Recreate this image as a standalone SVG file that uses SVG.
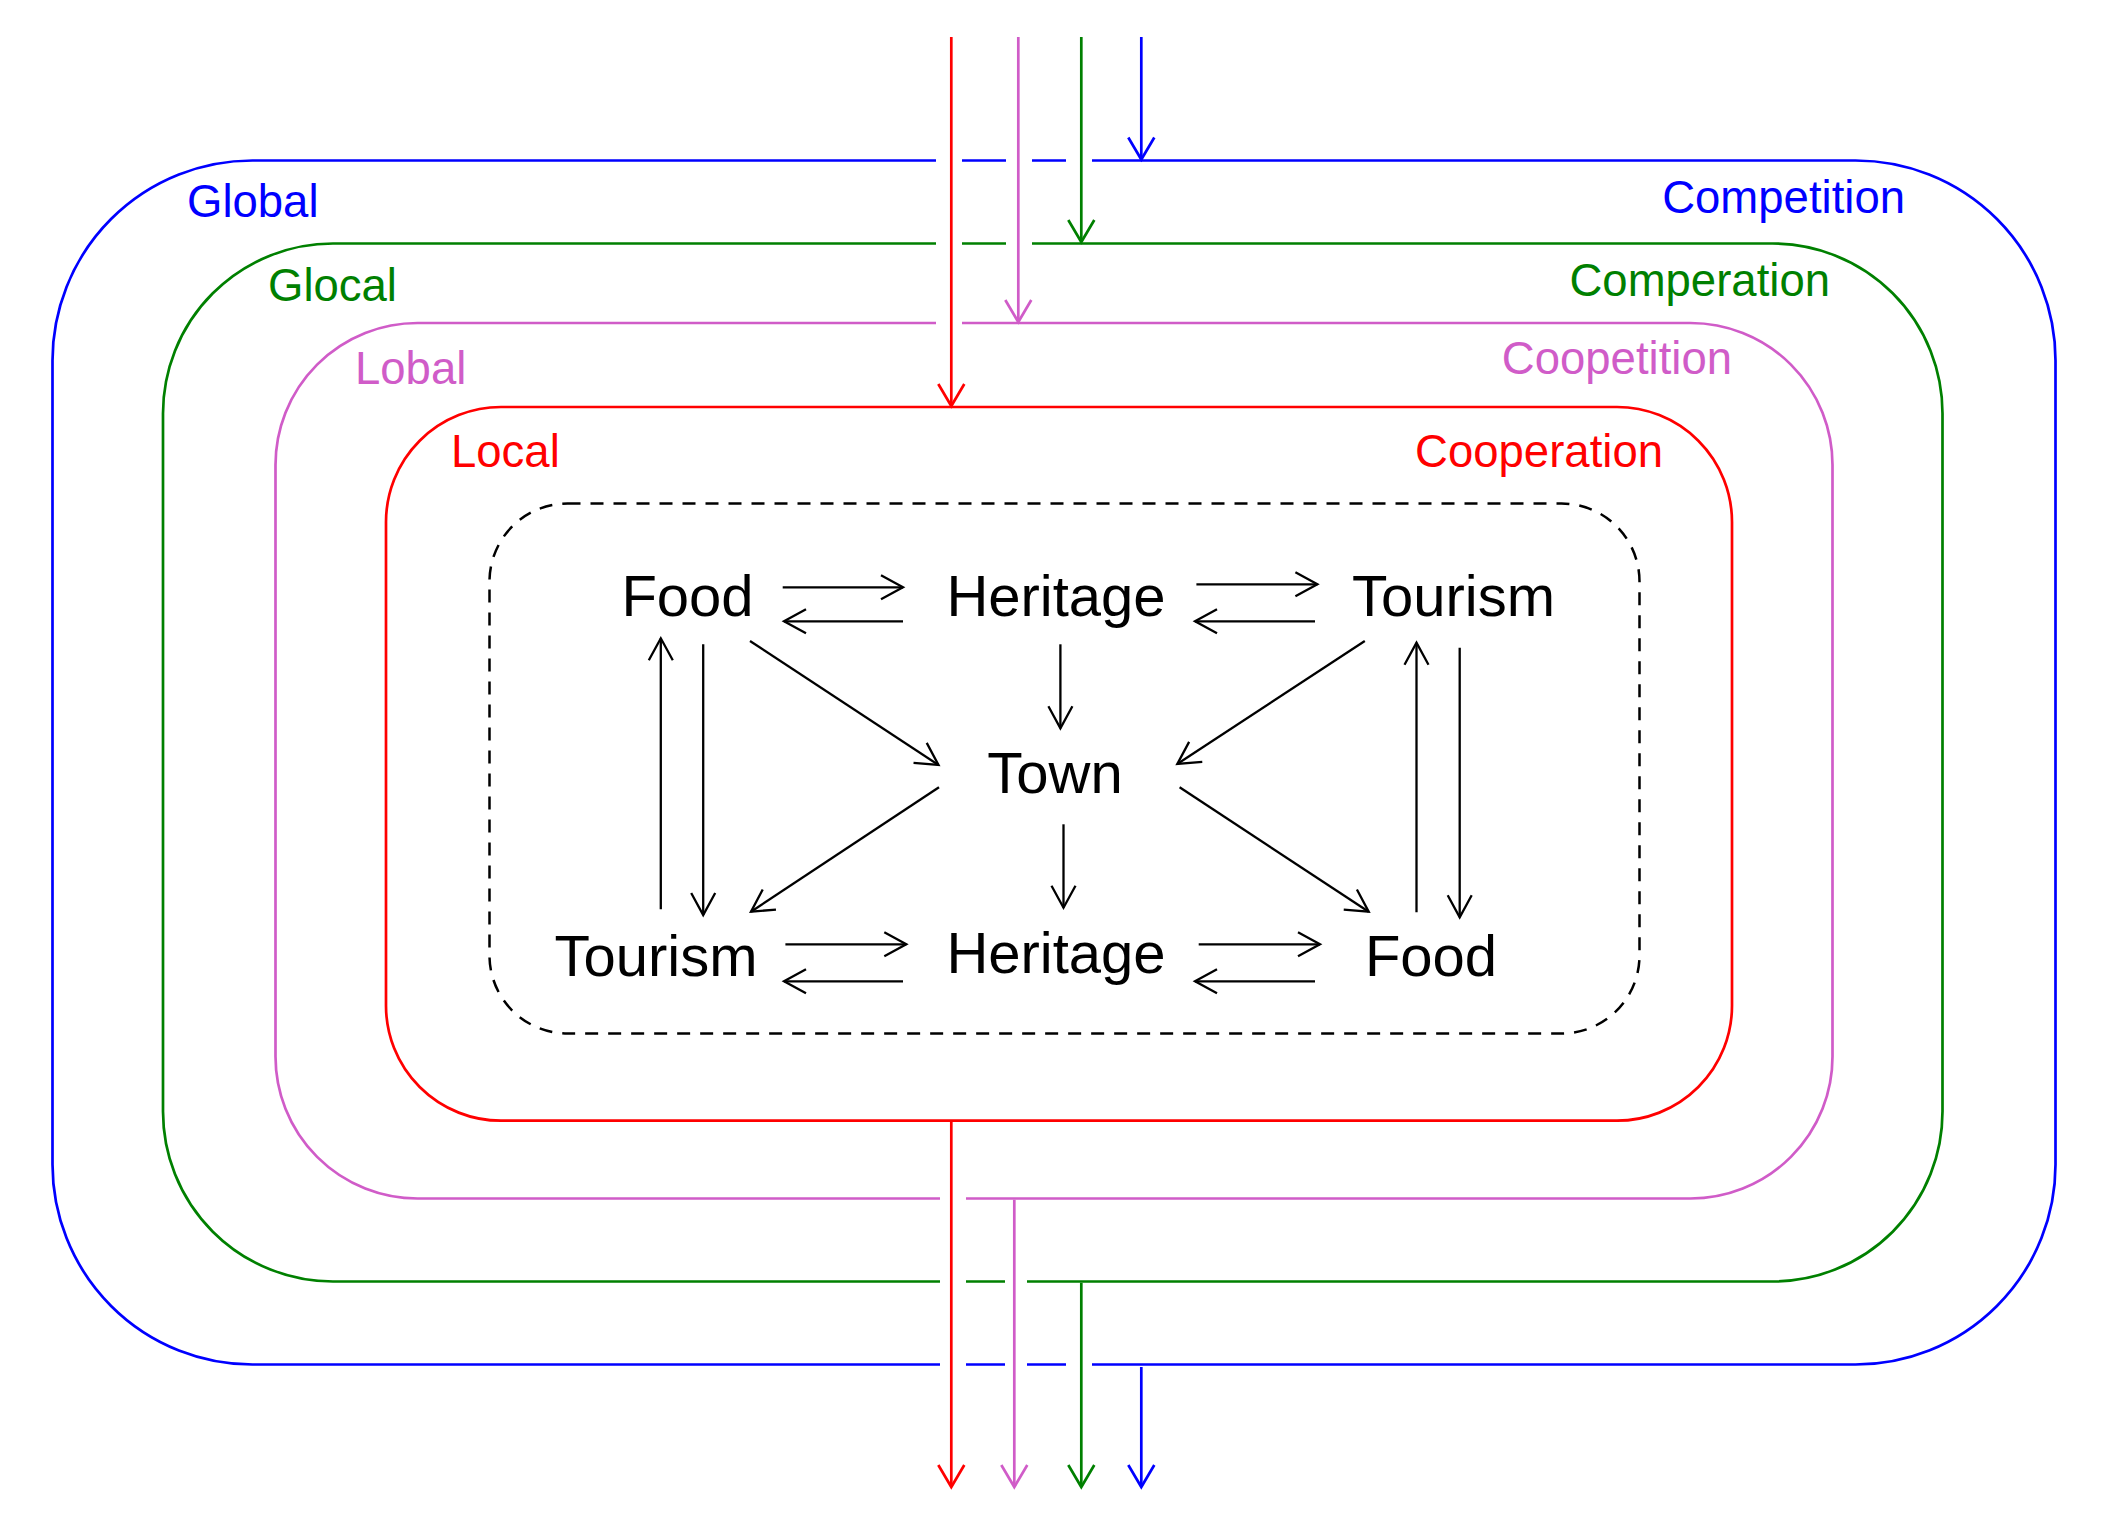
<svg xmlns="http://www.w3.org/2000/svg" width="2110" height="1520" viewBox="0 0 2110 1520">
<style>
  .ring { fill: none; stroke-width: 2.7; }
  .lbl { font-family: "Liberation Sans", Arial, Helvetica, sans-serif; font-size: 45.5px; }
  .node { font-family: "Liberation Sans", Arial, Helvetica, sans-serif; font-size: 58px; fill: #000; text-anchor: middle; }
  .blue { stroke: #0000FF; } .tblue { fill: #0000FF; }
  .green { stroke: #008000; } .tgreen { fill: #008000; }
  .pink { stroke: #D05CC8; } .tpink { fill: #D05CC8; }
  .red { stroke: #FF0000; } .tred { fill: #FF0000; }
  .blk { stroke: #000; stroke-width: 2.3; fill: none; marker-end: url(#ak); }
  .cv { fill: none; stroke-width: 2.7; }
</style>
<defs>
  <marker id="ak" markerUnits="userSpaceOnUse" markerWidth="40" markerHeight="40" viewBox="-30 -20 40 40" refX="0" refY="0" orient="auto" overflow="visible">
    <path d="M-22,-12 L0,0 L-22,12" fill="none" stroke="#000" stroke-width="2.3"/>
  </marker>
  <marker id="ab" markerUnits="userSpaceOnUse" markerWidth="40" markerHeight="40" viewBox="-30 -20 40 40" refX="0" refY="0" orient="auto" overflow="visible">
    <path d="M-22,-13 L0,0 L-22,13" fill="none" stroke="#0000FF" stroke-width="2.7"/>
  </marker>
  <marker id="ag" markerUnits="userSpaceOnUse" markerWidth="40" markerHeight="40" viewBox="-30 -20 40 40" refX="0" refY="0" orient="auto" overflow="visible">
    <path d="M-22,-13 L0,0 L-22,13" fill="none" stroke="#008000" stroke-width="2.7"/>
  </marker>
  <marker id="ap" markerUnits="userSpaceOnUse" markerWidth="40" markerHeight="40" viewBox="-30 -20 40 40" refX="0" refY="0" orient="auto" overflow="visible">
    <path d="M-22,-13 L0,0 L-22,13" fill="none" stroke="#D05CC8" stroke-width="2.7"/>
  </marker>
  <marker id="ar" markerUnits="userSpaceOnUse" markerWidth="40" markerHeight="40" viewBox="-30 -20 40 40" refX="0" refY="0" orient="auto" overflow="visible">
    <path d="M-22,-13 L0,0 L-22,13" fill="none" stroke="#FF0000" stroke-width="2.7"/>
  </marker>
</defs>
<rect width="2110" height="1520" fill="#fff"/>

<g id="ring-global">
  <path class="ring blue" d="M1092,160.5 H1855.5 A200,200 0 0 1 2055.5,360.5 V1164.5 A200,200 0 0 1 1855.5,1364.5 H1092 M1066,1364.5 H1027 M1005,1364.5 H966 M940,1364.5 H252.5 A200,200 0 0 1 52.5,1164.5 V360.5 A200,200 0 0 1 252.5,160.5 H936 M962,160.5 H1006 M1032,160.5 H1066"/>
  <text class="lbl tblue" x="187" y="217">Global</text>
  <text class="lbl tblue" x="1905" y="213" text-anchor="end">Competition</text>
</g>
<g id="ring-glocal">
  <path class="ring green" d="M1032,243.5 H1772.5 A170,170 0 0 1 1942.5,413.5 V1111.5 A170,170 0 0 1 1772.5,1281.5 H1027 M1005,1281.5 H966 M940,1281.5 H333 A170,170 0 0 1 163,1111.5 V413.5 A170,170 0 0 1 333,243.5 H936 M962,243.5 H1006"/>
  <text class="lbl tgreen" x="268" y="301">Glocal</text>
  <text class="lbl tgreen" x="1830" y="296" text-anchor="end">Comperation</text>
</g>
<g id="ring-lobal">
  <path class="ring pink" d="M962,323 H1690.5 A142,142 0 0 1 1832.5,465 V1056.5 A142,142 0 0 1 1690.5,1198.5 H966 M940,1198.5 H417.5 A142,142 0 0 1 275.5,1056.5 V465 A142,142 0 0 1 417.5,323 H936"/>
  <text class="lbl tpink" x="355" y="384">Lobal</text>
  <text class="lbl tpink" x="1732" y="374" text-anchor="end">Coopetition</text>
</g>
<g id="ring-local">
  <rect class="ring red" x="386" y="407" width="1346" height="713.7" rx="115" ry="115"/>
  <text class="lbl tred" x="451" y="467">Local</text>
  <text class="lbl tred" x="1663" y="467" text-anchor="end">Cooperation</text>
</g>
<g id="core">
  <rect x="489.5" y="503.5" width="1150" height="530" rx="78" ry="78" fill="none" stroke="#000" stroke-width="2.5" stroke-dasharray="13 10"/>
</g>

<g id="n-food-top"><text class="node" x="687.5" y="616">Food</text></g>
<g id="n-heritage-top"><text class="node" x="1056" y="616">Heritage</text></g>
<g id="n-tourism-top"><text class="node" x="1453.5" y="616">Tourism</text></g>
<g id="n-town"><text class="node" x="1055" y="793">Town</text></g>
<g id="n-tourism-bot"><text class="node" x="656" y="976">Tourism</text></g>
<g id="n-heritage-bot"><text class="node" x="1056" y="973">Heritage</text></g>
<g id="n-food-bot"><text class="node" x="1431" y="976">Food</text></g>

<g id="connectors">
  <!-- colored flows -->
  <line class="cv red" x1="951.3" y1="37" x2="951.3" y2="406" marker-end="url(#ar)"/>
  <line class="cv pink" x1="1018.3" y1="37" x2="1018.3" y2="322" marker-end="url(#ap)"/>
  <line class="cv green" x1="1081.3" y1="37" x2="1081.3" y2="242" marker-end="url(#ag)"/>
  <line class="cv blue" x1="1141.3" y1="37" x2="1141.3" y2="159.5" marker-end="url(#ab)"/>
  <line class="cv red" x1="951.3" y1="1120.7" x2="951.3" y2="1487" marker-end="url(#ar)"/>
  <line class="cv pink" x1="1014.3" y1="1199.8" x2="1014.3" y2="1487" marker-end="url(#ap)"/>
  <line class="cv green" x1="1081.3" y1="1282.8" x2="1081.3" y2="1487" marker-end="url(#ag)"/>
  <line class="cv blue" x1="1141.3" y1="1367" x2="1141.3" y2="1487" marker-end="url(#ab)"/>

  <!-- top row -->
  <line class="blk" x1="782.7" y1="587.3" x2="903" y2="587.3"/>
  <line class="blk" x1="903" y1="621.3" x2="784" y2="621.3"/>
  <line class="blk" x1="1196.4" y1="584.3" x2="1317.4" y2="584.3"/>
  <line class="blk" x1="1315" y1="621.3" x2="1195" y2="621.3"/>
  <!-- bottom row -->
  <line class="blk" x1="785.4" y1="944.3" x2="906.3" y2="944.3"/>
  <line class="blk" x1="903" y1="981.3" x2="784" y2="981.3"/>
  <line class="blk" x1="1198.7" y1="944.3" x2="1320" y2="944.3"/>
  <line class="blk" x1="1315" y1="981.3" x2="1195" y2="981.3"/>
  <!-- left verticals -->
  <line class="blk" x1="660.8" y1="909.3" x2="660.8" y2="638.3"/>
  <line class="blk" x1="703.2" y1="644.3" x2="703.2" y2="915"/>
  <!-- right verticals -->
  <line class="blk" x1="1416.5" y1="912.3" x2="1416.5" y2="642.7"/>
  <line class="blk" x1="1459.7" y1="647.7" x2="1459.7" y2="917.3"/>
  <!-- center verticals -->
  <line class="blk" x1="1060.4" y1="644.3" x2="1060.4" y2="728.3"/>
  <line class="blk" x1="1063.5" y1="824.3" x2="1063.5" y2="907.7"/>
  <!-- diagonals -->
  <line class="blk" x1="750" y1="641" x2="938.5" y2="765"/>
  <line class="blk" x1="1364.8" y1="641" x2="1177.3" y2="764"/>
  <line class="blk" x1="939" y1="787.3" x2="751" y2="911.7"/>
  <line class="blk" x1="1179.6" y1="787.3" x2="1368.7" y2="911.7"/>
</g>
</svg>
